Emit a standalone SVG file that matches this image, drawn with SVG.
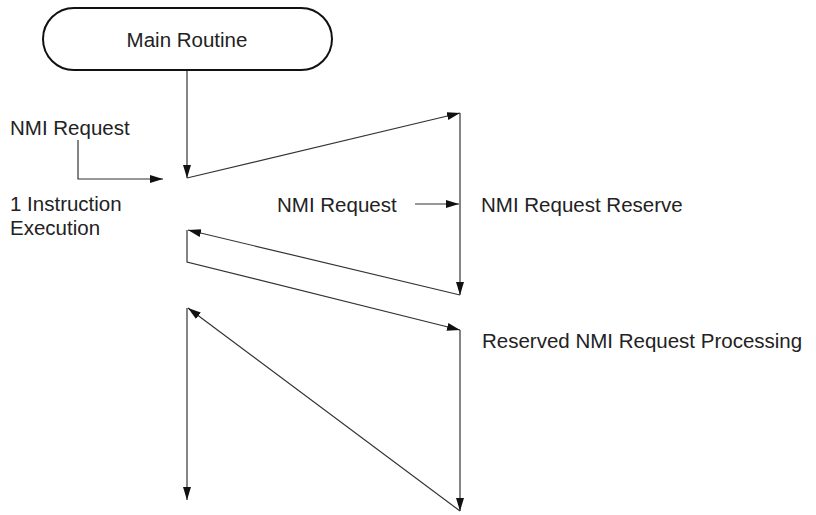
<svg xmlns="http://www.w3.org/2000/svg" width="816" height="515" viewBox="0 0 816 515">
<style>
text{font-family:"Liberation Sans",Arial,sans-serif;font-size:20.5px;fill:#222}
.ln{fill:none;stroke:#333;stroke-width:1.2}
</style>
<defs>
<marker id="ah" markerUnits="userSpaceOnUse" markerWidth="14" markerHeight="10" refX="13" refY="4" orient="auto">
<path d="M0,0 L13,4 L0,8 Z" fill="#111"/>
</marker>
</defs>
<rect width="816" height="515" fill="#fff"/>
<g id="main-routine">
<rect x="43" y="8" width="289" height="62" rx="31" ry="31" fill="#fff" stroke="#111" stroke-width="2"/>
<text x="187" y="47" text-anchor="middle">Main Routine</text>
</g>
<g id="labels">
<text x="10" y="135">NMI Request</text>
<text x="10" y="211">1 Instruction</text>
<text x="10" y="235">Execution</text>
<text x="277" y="212">NMI Request</text>
<text x="481" y="212">NMI Request Reserve</text>
<text x="482" y="348">Reserved NMI Request Processing</text>
</g>
<g id="connectors">
<path class="ln" d="M187,71 L187,178" marker-end="url(#ah)"/>
<path class="ln" d="M78,140 L78,179 L163,179" marker-end="url(#ah)"/>
<path class="ln" d="M187,178 L460,113" marker-end="url(#ah)"/>
<path class="ln" d="M460,113 L460,295" marker-end="url(#ah)"/>
<path class="ln" d="M415,204 L459,204" marker-end="url(#ah)"/>
<path class="ln" d="M460,295 L188,230" marker-end="url(#ah)"/>
<path class="ln" d="M187,230 L187,262 L460,330" marker-end="url(#ah)"/>
<path class="ln" d="M460,330 L460,511" marker-end="url(#ah)"/>
<path class="ln" d="M460,511 L188,308" marker-end="url(#ah)"/>
<path class="ln" d="M187,308 L187,500" marker-end="url(#ah)"/>
</g>
</svg>
